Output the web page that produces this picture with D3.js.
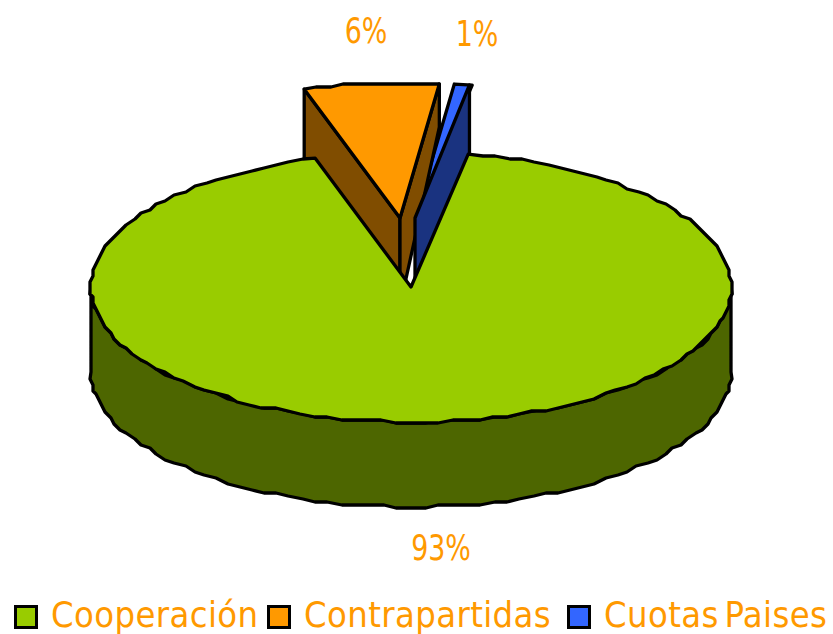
<!DOCTYPE html>
<html>
<head>
<meta charset="utf-8">
<script src="https://cdn.jsdelivr.net/npm/d3@7"></script>
<style>
  html, body { margin: 0; padding: 0; background: #fff; }
  text { font-family: "DejaVu Sans Condensed", "DejaVu Sans", sans-serif; fill: #ff9900; }
</style>
</head>
<body>
<svg id="chart" width="833" height="634"></svg>
<script>
// values, the labels are the rounded ones it prints
const categories = ["Cooperación", "Contrapartidas", "Cuotas Paises"];
const shares = [92.3, 6.8, 0.9];
const shareLabels = ["93%", "6%", "1%"];

const TOP_COLORS = ["#99cc00", "#ff9900", "#3366ff"];
const WALL_COLORS = ["#4d6600", "#804d00", "#1a3380"];
const EXPLODE = [[0, 0], [-11, -69], [4, -69]];
const LABEL_POS = [[441, 547], [366, 30], [477, 33]];
const LEGEND_X = [14, 267, 567];
const DEPTH = 85;
const DEG = Math.PI / 180;

const svg = d3.select("#chart");

// unit circle -> tilted ellipse
const px = d3.scaleLinear().domain([-1, 1]).range([91, 731]);
const py = d3.scaleLinear().domain([-1, 1]).range([422, 152]);

const slices = d3.pie().sort(null).startAngle(10.3 * DEG).endAngle(370.3 * DEG)(shares);

const line = d3.line();
const snap = v => Math.round(v / 3) * 3;  // the outline in the source is coarse, not a clean ellipse

function rim(a0, a1) {
  const n = Math.max(1, Math.round(Math.abs(a1 - a0) / (2.5 * DEG)));
  return d3.range(n + 1).map(i => {
    const a = a0 + (a1 - a0) * i / n;
    const p = [px(Math.sin(a)), py(Math.cos(a))];
    return i === 0 || i === n ? p : [snap(p[0]), snap(p[1])];
  });
}
const centre = [px(0), py(0)];
const shift = (pts, dx, dy) => pts.map(p => [p[0] + dx, p[1] + dy]);

function drawPoly(pts, fill) {
  svg.append("path")
    .attr("d", line(pts) + "Z")
    .attr("fill", fill)
    .attr("stroke", "#000")
    .attr("stroke-width", 3.3)
    .attr("stroke-linejoin", "round");
}
function topFace(i) {
  const s = slices[i], [dx, dy] = EXPLODE[i];
  drawPoly(shift([centre, ...rim(s.startAngle, s.endAngle)], dx, dy), TOP_COLORS[i]);
}
function radialWall(i, angle, outerDepth = DEPTH, innerDepth = DEPTH) {
  const [dx, dy] = EXPLODE[i];
  const edge = [px(Math.sin(angle)) + dx, py(Math.cos(angle)) + dy];
  const c = [centre[0] + dx, centre[1] + dy];
  drawPoly([c, edge, [edge[0], edge[1] + outerDepth], [c[0], c[1] + innerDepth]], WALL_COLORS[i]);
}

// back to front, the green top hides the lower part of the pulled-out walls
topFace(2);
radialWall(1, slices[1].startAngle);
radialWall(1, slices[1].endAngle, 43, 88);  // the source draws this wall short at its outer end
topFace(1);
radialWall(2, slices[2].endAngle - 0.5 * DEG);

const front = rim(90 * DEG, 270 * DEG);
drawPoly([...front, ...shift(front, 0, DEPTH).reverse()], WALL_COLORS[0]);
topFace(0);

svg.selectAll(".share")
  .data(shareLabels)
  .enter().append("text")
  .attr("class", "share")
  .attr("transform", (d, i) => `translate(${LABEL_POS[i][0]},${LABEL_POS[i][1]}) scale(0.83,1)`)
  .attr("text-anchor", "middle")
  .attr("dominant-baseline", "central")
  .attr("font-size", 36)
  .text(d => d);

const legend = svg.selectAll(".legend")
  .data(categories)
  .enter().append("g")
  .attr("class", "legend")
  .attr("transform", (d, i) => `translate(${LEGEND_X[i]},605)`);
legend.append("rect")
  .attr("x", 1.5).attr("y", 1.5)
  .attr("width", 21).attr("height", 21)
  .attr("fill", (d, i) => TOP_COLORS[i])
  .attr("stroke", "#000")
  .attr("stroke-width", 3);
legend.append("text")
  .attr("x", 37).attr("y", 22)
  .attr("font-size", 36)
  .attr("letter-spacing", 0.4)
  .attr("word-spacing", -5)
  .text(d => d);
</script>
</body>
</html>
